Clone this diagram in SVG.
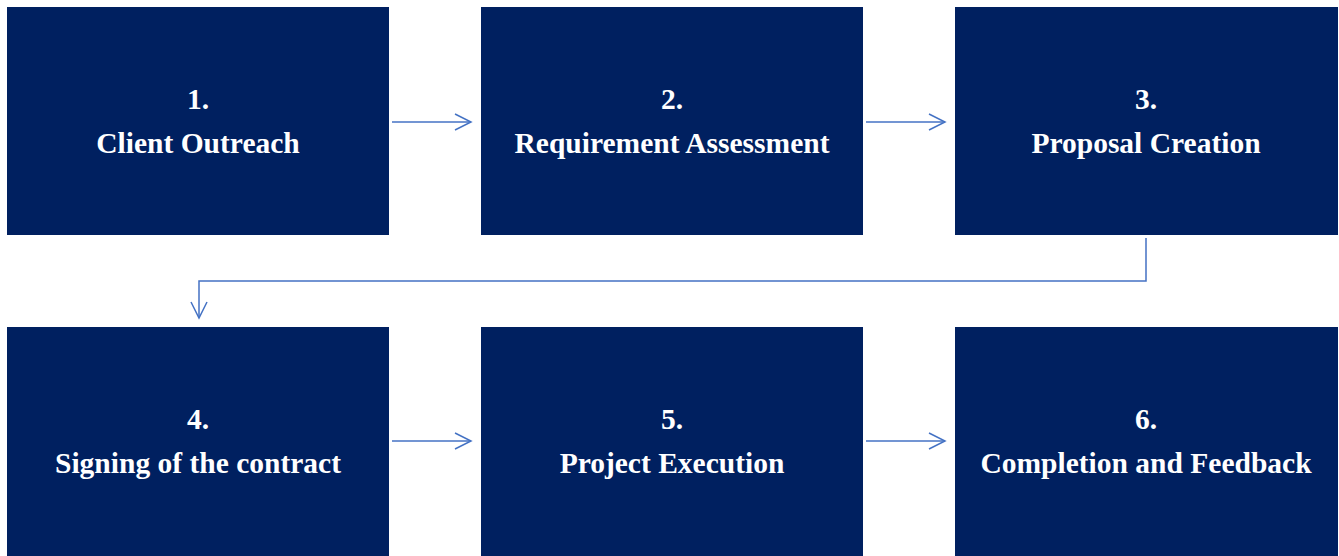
<svg xmlns="http://www.w3.org/2000/svg" width="1339" height="556" viewBox="0 0 1339 556">
  <style>
    .box { fill: #002060; }
    .lbl { fill: #ffffff; font-family: "Liberation Serif", "Times New Roman", serif; font-weight: bold; font-size: 29.5px; text-anchor: middle; }
    .conn { fill: none; stroke: #4472C4; stroke-width: 1.5; }
  </style>
  <defs>
    <marker id="arrowL" viewBox="0 0 20 20" refX="18" refY="10" markerWidth="20" markerHeight="20" markerUnits="userSpaceOnUse" orient="auto">
      <path d="M2,2 L18,10 L2,18" fill="none" stroke="#4472C4" stroke-width="1.5"/>
    </marker>
  </defs>
  <rect width="1339" height="556" fill="#ffffff"/>

  <g id="node1">
    <rect class="box" x="7" y="7" width="382" height="228"/>
    <text class="lbl" x="198" y="109">1.</text>
    <text class="lbl" x="198" y="153">Client Outreach</text>
  </g>
  <g id="node2">
    <rect class="box" x="481" y="7" width="382" height="228"/>
    <text class="lbl" x="672" y="109">2.</text>
    <text class="lbl" x="672" y="153">Requirement Assessment</text>
  </g>
  <g id="node3">
    <rect class="box" x="955" y="7" width="383" height="228"/>
    <text class="lbl" x="1146" y="109">3.</text>
    <text class="lbl" x="1146" y="153">Proposal Creation</text>
  </g>
  <g id="node4">
    <rect class="box" x="7" y="327" width="382" height="229"/>
    <text class="lbl" x="198" y="429">4.</text>
    <text class="lbl" x="198" y="473">Signing of the contract</text>
  </g>
  <g id="node5">
    <rect class="box" x="481" y="327" width="382" height="229"/>
    <text class="lbl" x="672" y="429">5.</text>
    <text class="lbl" x="672" y="473">Project Execution</text>
  </g>
  <g id="node6">
    <rect class="box" x="955" y="327" width="383" height="229"/>
    <text class="lbl" x="1146" y="429">6.</text>
    <text class="lbl" x="1146" y="473">Completion and Feedback</text>
  </g>

  <g id="connectors">
    <path class="conn" d="M392,122 L471,122" marker-end="url(#arrowL)"/>
    <path class="conn" d="M866,122 L945,122" marker-end="url(#arrowL)"/>
    <path class="conn" d="M1146,238 L1146,281 L199,281 L199,318" marker-end="url(#arrowL)"/>
    <path class="conn" d="M392,441 L471,441" marker-end="url(#arrowL)"/>
    <path class="conn" d="M866,441 L945,441" marker-end="url(#arrowL)"/>
  </g>
</svg>
